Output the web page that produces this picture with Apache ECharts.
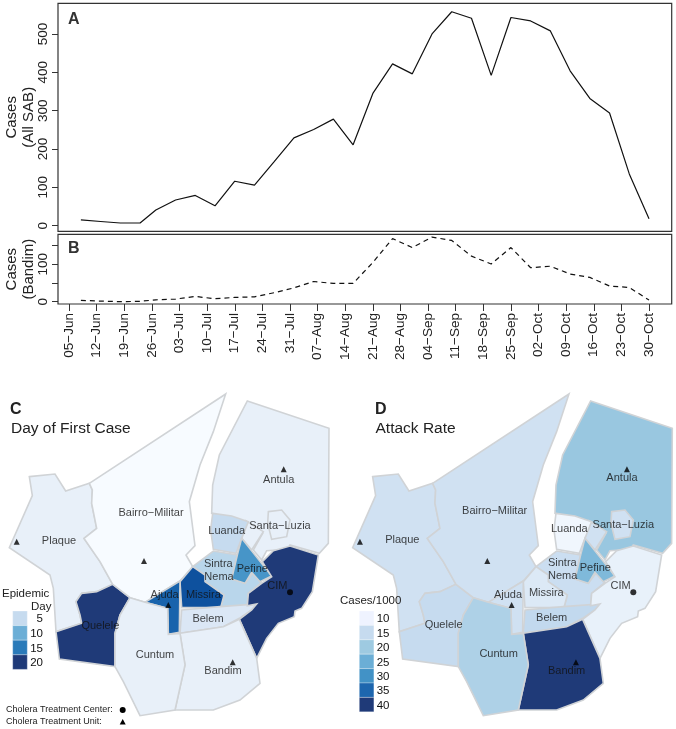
<!DOCTYPE html>
<html><head><meta charset="utf-8">
<style>html,body{margin:0;padding:0;background:#fff}#c{width:676px;height:729px}</style>
<script src="https://cdn.jsdelivr.net/npm/echarts@6/dist/echarts.min.js"></script>
</head><body><div id="c"></div>
<script>
// ---- time series ----
const days = [3,8,13,18,22,27,32,37,42,47,52,57,62,67,72,77,82,87,92,97,102,107,112,117,122,127,132,137,142,147];
const casesAll = [15,11,7,7,41,67,79,52,116,106,167,229,251,278,211,345,422,396,500,558,541,392,543,534,508,404,332,294,135,18];
const casesBandim = [3.5,1.5,0,1,5,7,14,8,11.5,13,24,37,54,49,49,105,169,145,173,164,122,101,145,91,95,74,65,42,38,4.5];
const weekTicks = [0,7,14,21,28,35,42,49,56,63,70,77,84,91,98,105,112,119,126,133,140,147];
const weekLabels = ['05−Jun','12−Jun','19−Jun','26−Jun','03−Jul','10−Jul','17−Jul','24−Jul','31−Jul','07−Aug','14−Aug','21−Aug','28−Aug','04−Sep','11−Sep','18−Sep','25−Sep','02−Oct','09−Oct','16−Oct','23−Oct','30−Oct'];
const ticksA = [0,100,200,300,400,500];
const ticksB = [0,50,100,150];
const labelsB = [0,100];

// ---- map outlines (map units) ----
const plaque = [[88,305],[165,297],[197,348],[268,325],[277,345],[275,385],[290,460],[252,490],[300,560],[338,628],[290,650],[245,655],[228,680],[240,720],[245,745],[168,770],[160,640],[150,600],[28,518],[97,362]];
const quelele = [[338,628],[390,668],[360,720],[345,775],[345,875],[178,852],[168,770],[245,745],[240,720],[228,680],[245,655],[290,650]];
const bairro = [[268,325],[677,57],[640,170],[600,270],[568,380],[585,512],[558,540],[578,575],[540,618],[435,682],[390,668],[338,628],[300,560],[252,490],[290,460],[275,385],[277,345]];
const antula = [[742,78],[987,160],[985,505],[958,535],[870,510],[865,523],[800,527],[785,555],[760,525],[788,475],[725,440],[635,415],[638,330],[658,240]];
const santaLuziaA = [[805,410],[845,405],[870,435],[860,485],[815,493],[803,445]];
const santaLuziaB = [[737,437],[790,470],[755,525],[725,490]];
const luanda = [[638,415],[695,423],[745,440],[725,490],[708,535],[640,523],[632,465]];
const sintraNema = [[578,575],[640,528],[712,540],[695,612],[735,625],[758,595],[785,622],[745,655],[742,692],[662,698],[672,660],[615,620],[615,600]];
const missira = [[578,575],[615,600],[615,620],[672,660],[662,698],[545,698],[540,620]];
const pefine = [[725,490],[815,603],[780,620],[755,592],[735,625],[695,612],[712,540]];
const ajuda = [[435,682],[540,618],[538,772],[505,778],[503,700]];
const belem = [[545,705],[660,695],[770,687],[755,705],[718,730],[670,755],[540,775]];
const cim = [[787,560],[820,527],[870,513],[955,540],[937,650],[905,700],[885,708],[883,725],[835,745],[800,790],[770,850],[718,733],[755,705],[770,687],[742,692],[745,655],[785,625],[815,605]];
const bandim = [[540,775],[670,755],[718,733],[770,850],[780,925],[720,975],[640,1005],[525,1005],[555,870]];
const cuntum = [[390,668],[435,682],[503,700],[505,778],[540,775],[555,870],[525,1005],[420,1022],[370,920],[345,875],[345,775],[360,720]];

const regionNames = ['Plaque','Quelele','Bairro−Militar','Antula','Santa−Luzia','Luanda','Sintra Nema','Missira','Pefine','Ajuda','Belem','CIM','Bandim','Cuntum'];
const dayOfFirstCase = [1.6,20,0,1.6,1.6,5,5.8,17.6,12.2,16,3,20,1.6,1.6];
const attackRate = [13,15,13,20.5,13,6.5,14,10.5,23,13,15.5,8,40,18];

const labelNames = ['Plaque','Bairro−Militar','Antula','Santa−Luzia','Luanda','Sintra','Nema','Pefine','CIM','Ajuda','Missira','Belem','Quelele','Cuntum','Bandim'];
const labelPosC = [[177,498],[453,413],[836,314],[840,454],[680,467],[655,567],[657,606],[757,582],[832,632],[494,661],[610,660],[624,733],[301,753],[465,841],[669,889]];
const labelPosD = [[177,495],[454,409],[836,309],[840,450],[678,463],[657,563],[658,602],[756,578],[832,632],[494,660],[609,655],[625,730],[301,750],[466,838],[670,889]];
const unitSites = [[50,500],[432,558],[505,690],[851,283],[698,862]];
const centerSites = [[870,652]];

// ---- legends ----
const stopsDay = ['#f7fbff','#e0eaf6','#c6dbef','#9ecae1','#6baed6','#4292c6','#1f6fb4','#0d52a0','#1f3a78'];
const stopsRate = ['#f7fbff','#deebf7','#c6dbef','#9ecae1','#6baed6','#4292c6','#2171b5','#1f3a78'];
const legendDayLabels = ['5','10','15','20'];
const legendDayColors = ['#c6dbef','#6baed6','#2a7ab9','#1f3a78'];
const legendRateLabels = ['10','15','20','25','30','35','40'];
const legendRateColors = ['#eff3ff','#c6dbef','#9ecae1','#6baed6','#4292c6','#1d66ae','#1f3a78'];

const FONT = '"Liberation Sans", Arial, sans-serif';
const polys = [[plaque],[quelele],[bairro],[antula],[santaLuziaA,santaLuziaB],[luanda],[sintraNema],[missira],[pefine],[ajuda],[belem],[cim],[bandim],[cuntum]];
const geoJson = {type:'FeatureCollection',features:regionNames.map((n,i)=>({
  type:'Feature',properties:{name:n},
  geometry:{type:'MultiPolygon',coordinates:polys[i].map(r=>[r.concat([r[0]])])}
}))};
echarts.registerMap('bissauC',geoJson);
echarts.registerMap('bissauD',geoJson);
echarts.registerMap('bissauSites',geoJson);

const identity = {project:p=>[p[0],p[1]],unproject:p=>[p[0],p[1]]};
const all = polys.flat(2);
const minX = Math.min(...all.map(p=>p[0])), maxX = Math.max(...all.map(p=>p[0]));
const minY = Math.min(...all.map(p=>p[1])), maxY = Math.max(...all.map(p=>p[1]));
const OFFSET_D = 343.3;
const box = dx => ({left:minX/3+dx, top:375+minY/3, width:(maxX-minX)/3, height:(maxY-minY)/3});

const lineStyle = {color:'#111',width:1.2};
const axisCol = '#333';
const tickLab = {color:'#222',fontFamily:FONT,fontSize:13.5};
function xAxis(gridIndex,withLabels){
  return {type:'value',gridIndex,min:-2.8,max:152.75,splitLine:{show:false},
    axisLine:{show:false,onZero:false},
    axisTick:withLabels?{show:true,length:7,customValues:weekTicks,lineStyle:{color:axisCol,width:1}}:{show:false},
    axisLabel:withLabels?{show:true,rotate:90,margin:9,customValues:weekTicks,hideOverlap:false,
      formatter:v=>weekLabels[weekTicks.indexOf(v)],...tickLab}:{show:false}};
}
function yAxis(gridIndex,min,max,ticks,labels,name,gap){
  return {type:'value',gridIndex,min,max,splitLine:{show:false},
    axisLine:{show:false,onZero:false},
    axisTick:{show:true,length:6,customValues:ticks,lineStyle:{color:axisCol,width:1}},
    axisLabel:{show:true,rotate:90,margin:8,customValues:labels,hideOverlap:false,...tickLab},
    name,nameLocation:'middle',nameRotate:90,nameGap:gap,nameMoveOverlap:false,
    nameTextStyle:{color:'#222',fontFamily:FONT,fontSize:15,lineHeight:17}};
}
const mapSeries = (name,map,data,b)=>({type:'map',name,map,projection:identity,...b,aspectScale:1,silent:true,
  animation:false,label:{show:false},
  itemStyle:{borderColor:'#d0d3d6',borderWidth:1.6},emphasis:{disabled:true},select:{disabled:true},
  data:regionNames.map((n,i)=>({name:n,value:data[i]}))});
const hiddenGeo = b=>({map:'bissauSites',projection:identity,...b,aspectScale:1,silent:true,
  itemStyle:{areaColor:'transparent',borderWidth:0,borderColor:'transparent'},label:{show:false},emphasis:{disabled:true}});
const textSeries = (geoIndex,pos)=>({type:'scatter',coordinateSystem:'geo',geoIndex,silent:true,symbolSize:1,
  itemStyle:{color:'transparent'},z:5,
  label:{show:true,position:'inside',formatter:'{b}',color:'#111',fontFamily:FONT,fontSize:11},
  data:labelNames.map((n,i)=>({name:n,value:pos[i]}))});
const siteSeries = (geoIndex,symbol,size,pts)=>({type:'scatter',coordinateSystem:'geo',geoIndex,silent:true,symbol,symbolSize:size,
  itemStyle:{color:'#000'},z:6,data:pts});

function legendGraphics(x,yTop,h,colors,labels,labelRight){
  const out=[];
  colors.forEach((c,i)=>{
    out.push({type:'rect',z:100,shape:{x,y:yTop+i*h,width:14.6,height:h},style:{fill:c,stroke:'#fff',lineWidth:0.3},silent:true});
    out.push({type:'text',z:100,x:labelRight,y:yTop+i*h+h/2+1,style:{text:labels[i],fill:'#111',font:'11.5px '+FONT,textAlign:'right',textVerticalAlign:'middle'},silent:true});
  });
  return out;
}
const txt=(x,y,text,size,align)=>({type:'text',z:100,x,y,silent:true,style:{text,fill:'#222',font:size+'px '+FONT,textAlign:align||'left',textVerticalAlign:'middle'}});

const titleText=(text,left,top,size,weight,color)=>({text,left,top,padding:0,textStyle:{fontFamily:FONT,fontSize:size,fontWeight:weight,color}});
const option={
  animation:false,backgroundColor:'#fff',
  title:[
    titleText('A',68,12,16,'bold','#333'),
    titleText('B',68,241,16,'bold','#333'),
    titleText('C',10,402,16,'bold','#222'),
    titleText('Day of First Case',11,421,15.5,'normal','#222'),
    titleText('D',375,402,16,'bold','#222'),
    titleText('Attack Rate',375.5,421,15.5,'normal','#222')
  ],
  grid:[
    {left:58,top:3.3,width:613.7,height:228,show:true,outerBoundsMode:'none',containLabel:false,borderColor:axisCol,borderWidth:1.2,backgroundColor:'transparent'},
    {left:58,top:234.3,width:613.7,height:69.7,show:true,outerBoundsMode:'none',containLabel:false,borderColor:axisCol,borderWidth:1.2,backgroundColor:'transparent'}
  ],
  xAxis:[xAxis(0,false),xAxis(1,true)],
  yAxis:[
    yAxis(0,-14.6,580,ticksA,ticksA,'Cases\n(All SAB)',20.5),
    yAxis(1,-6.2,180.5,ticksB,labelsB,'Cases\n(Bandim)',20.5)
  ],
  geo:[hiddenGeo(box(0)),hiddenGeo(box(OFFSET_D))],
  visualMap:[
    {type:'continuous',show:false,seriesIndex:2,min:0,max:20,inRange:{color:stopsDay}},
    {type:'continuous',show:false,seriesIndex:3,min:5,max:40,inRange:{color:stopsRate}}
  ],
  series:[
    {type:'line',xAxisIndex:0,yAxisIndex:0,showSymbol:false,silent:true,lineStyle,data:days.map((d,i)=>[d,casesAll[i]])},
    {type:'line',xAxisIndex:1,yAxisIndex:1,showSymbol:false,silent:true,lineStyle:{...lineStyle,type:[5,4]},data:days.map((d,i)=>[d,casesBandim[i]])},
    mapSeries('Day of First Case','bissauC',dayOfFirstCase,box(0)),
    mapSeries('Attack Rate','bissauD',attackRate,box(OFFSET_D)),
    textSeries(0,labelPosC),textSeries(1,labelPosD),
    siteSeries(0,'triangle',6,unitSites),siteSeries(1,'triangle',6,unitSites),
    siteSeries(0,'circle',6,centerSites),siteSeries(1,'circle',6,centerSites)
  ],
  graphic:[
    ...legendGraphics(12.7,611,14.6,legendDayColors,legendDayLabels,43),
    txt(2,594,'Epidemic',11.5),txt(31,607,'Day',11.5),
    ...legendGraphics(359.3,611,14.4,legendRateColors,legendRateLabels,389.5),
    txt(340,600.5,'Cases/1000',11.5),
    txt(6,710,'Cholera Treatment Center:',9),txt(6,722,'Cholera Treatment Unit:',9),
    {type:'circle',z:100,shape:{cx:122.7,cy:710,r:3},style:{fill:'#000'},silent:true},
    {type:'polygon',z:100,shape:{points:[[122.7,719],[119.7,724.5],[125.7,724.5]]},style:{fill:'#000'},silent:true}
  ]
};
const chart=echarts.init(document.getElementById('c'),null,{renderer:'canvas'});
chart.setOption(option);
</script></body></html>
